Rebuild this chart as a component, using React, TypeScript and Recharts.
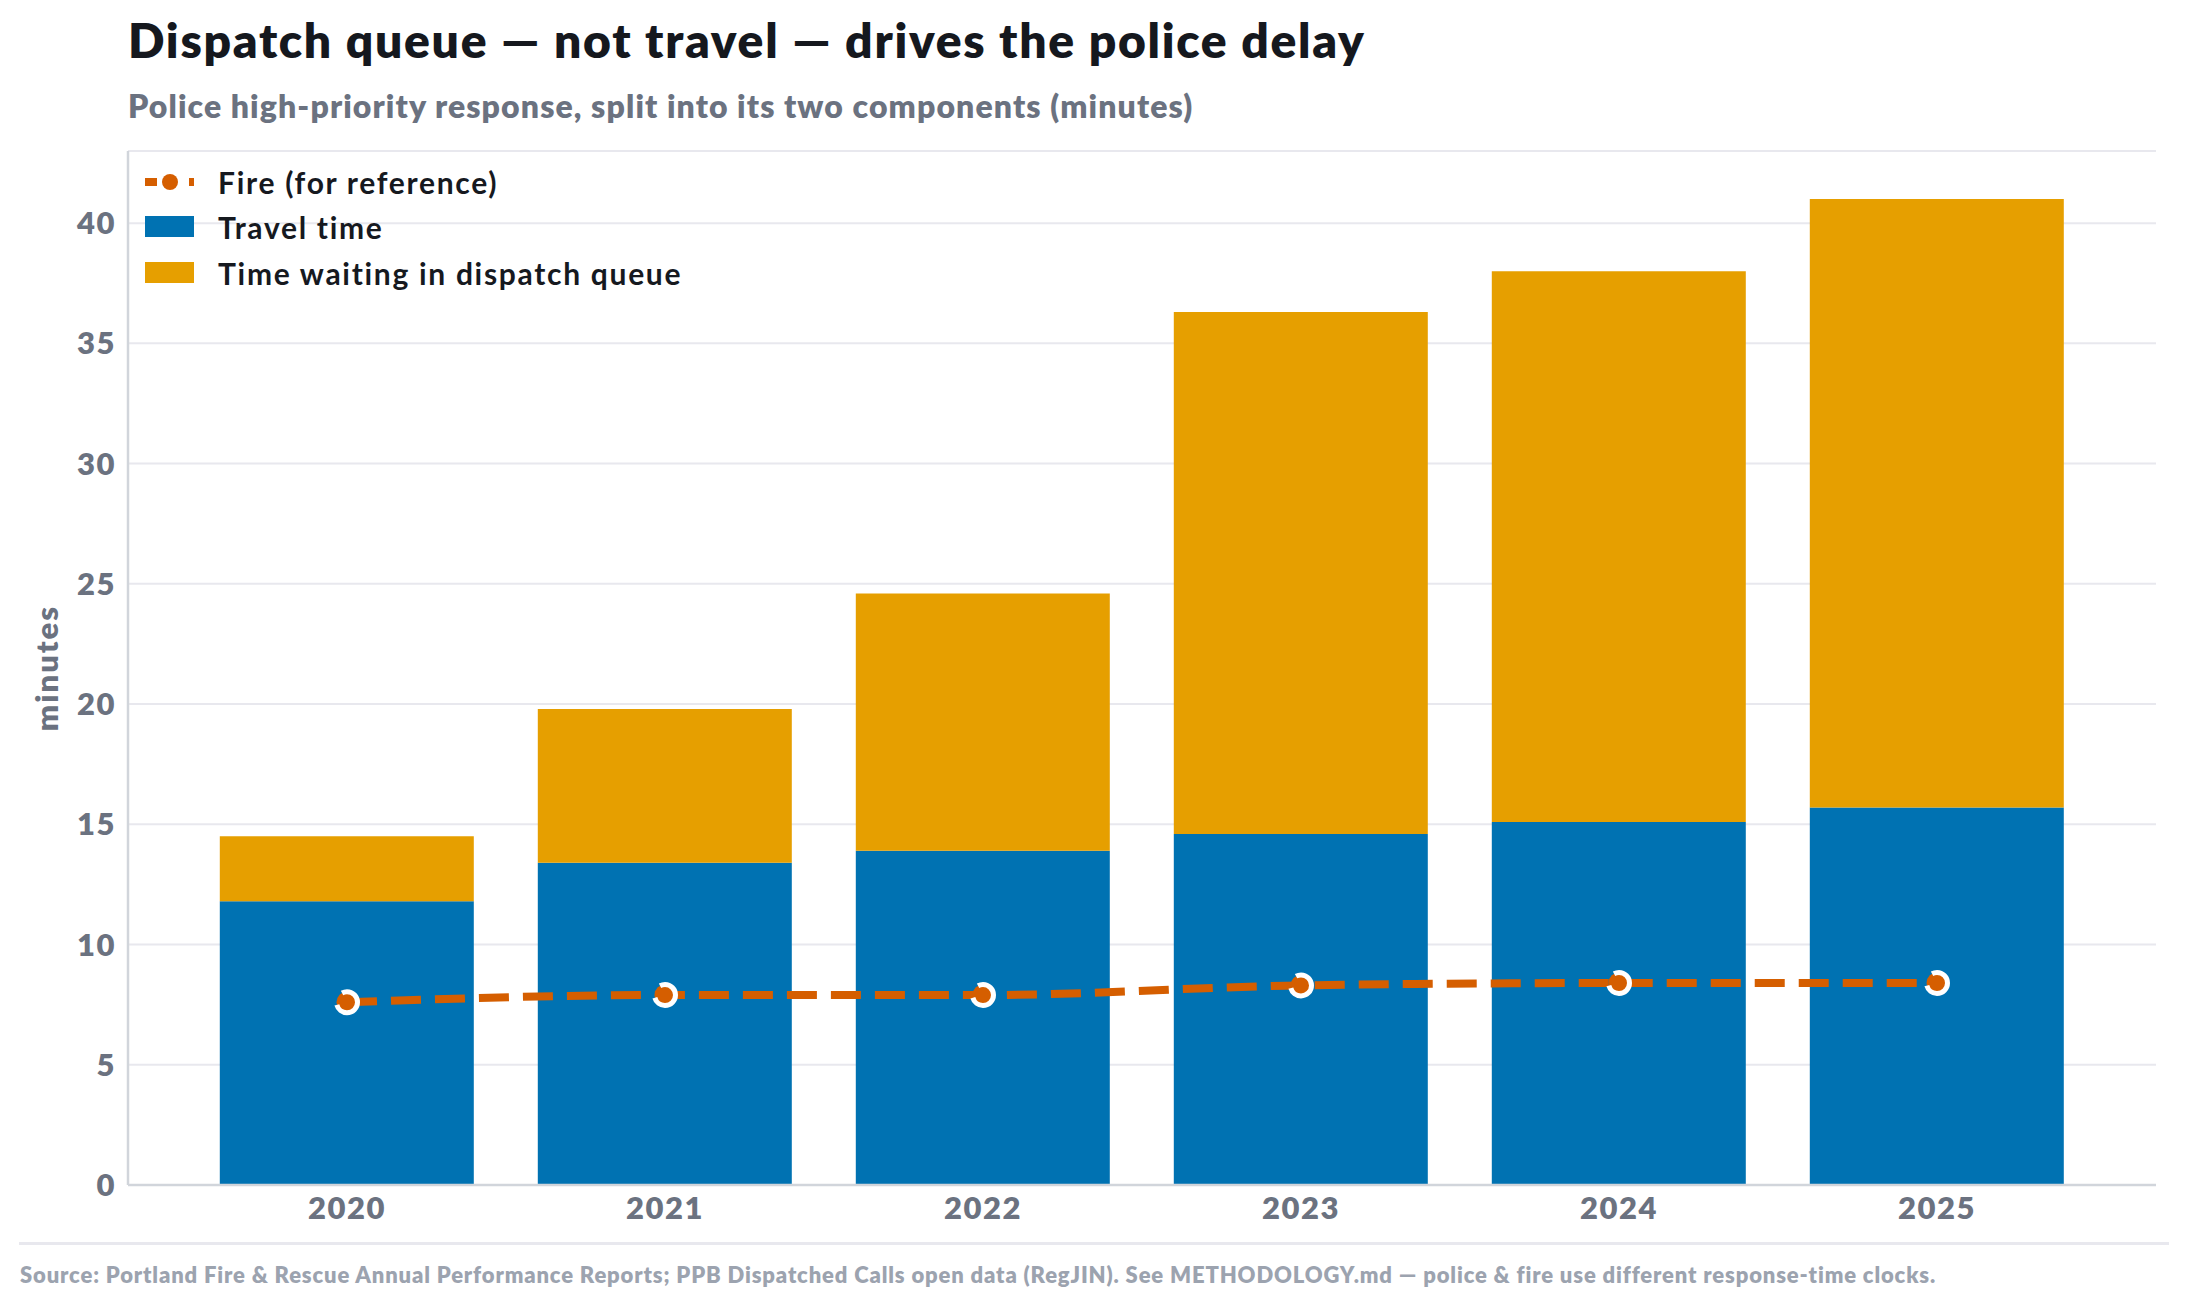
import React from "react";
import {
  ComposedChart,
  Bar,
  Line,
  XAxis,
  YAxis,
  CartesianGrid,
  Legend,
} from "recharts";

// values (minutes)
const years = ["2020", "2021", "2022", "2023", "2024", "2025"];
const travelTime = [11.8, 13.4, 13.9, 14.6, 15.1, 15.7];
const queueTime = [2.7, 6.4, 10.7, 21.7, 22.9, 25.3];
const fireTime = [7.6, 7.9, 7.9, 8.3, 8.4, 8.4];
const yTicks = [0, 5, 10, 15, 20, 25, 30, 35, 40];

const FONT = "Lato, 'Noto Sans', sans-serif";
const BLUE = "#0072b2";
const ORANGE = "#e69f00";
const FIRE = "#d55e00";
const GREY = "#6b7280";

const data = years.map((year, i) => ({
  year,
  travel: travelTime[i],
  queue: queueTime[i],
  fire: fireTime[i],
}));

const legendItems = [
  { name: "Fire (for reference)", color: FIRE, kind: "line" },
  { name: "Travel time", color: BLUE, kind: "bar" },
  { name: "Time waiting in dispatch queue", color: ORANGE, kind: "bar" },
];

const LegendIcon = ({ kind, color }) =>
  kind === "line" ? (
    <svg width={49} height={22}>
      <rect x={0} y={7} width={12} height={8} fill={color} />
      <circle cx={25} cy={11} r={8} fill={color} />
      <rect x={44} y={7} width={5} height={8} fill={color} />
    </svg>
  ) : (
    <svg width={49} height={22}>
      <rect x={0} y={0} width={49} height={21} fill={color} />
    </svg>
  );

const renderLegend = () => (
  <div style={{ display: "flex", flexDirection: "column" }}>
    {legendItems.map((item) => (
      <div
        key={item.name}
        style={{ display: "flex", alignItems: "center", height: 45.5 }}
      >
        <LegendIcon kind={item.kind} color={item.color} />
        <span
          style={{
            marginLeft: 24,
            fontFamily: FONT,
            fontWeight: 700,
            fontSize: 30,
            letterSpacing: 1.7,
            color: "#16191f",
            whiteSpace: "nowrap",
          }}
        >
          {item.name}
        </span>
      </div>
    ))}
  </div>
);

const tickStyle = {
  fill: GREY,
  fontSize: 31,
  fontWeight: 800,
  fontFamily: FONT,
  letterSpacing: 1.5,
};

export default function App() {
  return (
    <div
      style={{
        position: "absolute",
        left: 0,
        top: 0,
        width: 2187,
        height: 1307,
        background: "#fff",
        fontFamily: FONT,
      }}
    >
      <div
        style={{
          position: "absolute",
          left: 128,
          top: 16,
          fontSize: 48,
          lineHeight: 1,
          fontWeight: 800,
          letterSpacing: 1.7,
          color: "#15181e",
          whiteSpace: "nowrap",
        }}
      >
        Dispatch queue — not travel — drives the police delay
      </div>
      <div
        style={{
          position: "absolute",
          left: 128,
          top: 90,
          fontSize: 32,
          lineHeight: 1,
          fontWeight: 800,
          letterSpacing: 1.1,
          color: GREY,
          whiteSpace: "nowrap",
        }}
      >
        Police high-priority response, split into its two components (minutes)
      </div>

      <div style={{ position: "absolute", left: 0, top: 0 }}>
        <ComposedChart
          width={2187}
          height={1307}
          data={data}
          margin={{ top: 151, right: 31, bottom: 92, left: 20 }}
          barCategoryGap="10%"
        >
          <CartesianGrid vertical={false} stroke="#e8e8ee" strokeWidth={2} />
          <XAxis
            dataKey="year"
            height={30}
            padding={{ left: 60, right: 60 }}
            tickLine={false}
            tickSize={0}
            tickMargin={12}
            axisLine={{ stroke: "#d1d5db", strokeWidth: 2.5 }}
            tick={tickStyle}
          />
          <YAxis
            width={108}
            domain={[0, 43]}
            ticks={yTicks}
            interval={0}
            tickLine={false}
            tickSize={0}
            tickMargin={12}
            axisLine={{ stroke: "#d1d5db", strokeWidth: 2.5 }}
            tick={tickStyle}
            label={{
              content: () => (
                <text
                  x={46}
                  y={668}
                  transform="rotate(-90 46 668)"
                  textAnchor="middle"
                  dominantBaseline="central"
                  fill={GREY}
                  fontSize={31}
                  fontWeight={800}
                  letterSpacing={2}
                  fontFamily={FONT}
                >
                  minutes
                </text>
              ),
            }}
          />
          <Legend
            layout="vertical"
            align="center"
            verticalAlign="middle"
            content={renderLegend}
            wrapperStyle={{ top: 159, left: 145, width: "auto", height: "auto" }}
          />
          <Bar
            dataKey="travel"
            name="Travel time"
            stackId="police"
            fill={BLUE}
            isAnimationActive={false}
          />
          <Bar
            dataKey="queue"
            name="Time waiting in dispatch queue"
            stackId="police"
            fill={ORANGE}
            isAnimationActive={false}
          />
          <Line
            dataKey="fire"
            name="Fire (for reference)"
            type="monotone"
            stroke={FIRE}
            strokeWidth={8}
            strokeDasharray="30 14"
            dot={{ r: 10.5, fill: FIRE, stroke: "#fff", strokeWidth: 5 }}
            activeDot={false}
            isAnimationActive={false}
          />
        </ComposedChart>
      </div>

      <div
        style={{
          position: "absolute",
          left: 19,
          top: 1242,
          width: 2150,
          height: 2.5,
          background: "#e8e8ee",
        }}
      />
      <div
        style={{
          position: "absolute",
          left: 20,
          top: 1264,
          fontSize: 22,
          lineHeight: 1,
          fontWeight: 800,
          letterSpacing: 0.85,
          color: "#9ca3af",
          whiteSpace: "nowrap",
        }}
      >
        Source: Portland Fire &amp; Rescue Annual Performance Reports; PPB
        Dispatched Calls open data (RegJIN). See METHODOLOGY.md — police &amp;
        fire use different response-time clocks.
      </div>
    </div>
  );
}
